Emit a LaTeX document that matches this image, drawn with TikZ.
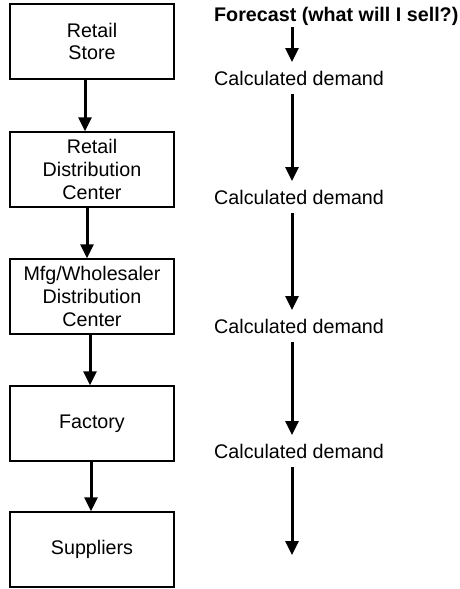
\documentclass[tikz,border=0pt]{standalone}
\usepackage{fontspec}
\setmainfont{Liberation Sans}
\usetikzlibrary{arrows.meta}
\begin{document}
\begin{tikzpicture}[x=1pt,y=-1pt,
  txt/.style={font=\fontsize{19.7}{22.7}\selectfont},
  box/.style={txt, draw, line width=1.5pt, minimum width=164pt, minimum height=75pt, inner sep=0pt, align=center},
  lbl/.style={txt, anchor=base west, inner sep=0pt, text height=14pt, text depth=0pt, outer ysep=9pt},
  arr/.style={line width=3pt, -{Triangle[width=13pt,length=14pt]}},
]
\useasboundingbox (0,0) rectangle (460,589);
% left column
\node[box] (b1) at (92,41.5) {Retail\\Store};
\node[box] (b2) at (92,169.5) {Retail\\Distribution\\Center};
\node[box] (b3) at (92,296.5) {Mfg/Wholesaler\\Distribution\\Center};
\node[box] (b4) at (92,423.5) {Factory};
\node[box] (b5) at (92,549.5) {Suppliers};
\draw[arr] (85,0 |- b1.south) -- (85,0 |- b2.north);
\draw[arr] (87,0 |- b2.south) -- (87,0 |- b3.north);
\draw[arr] (90,0 |- b3.south) -- (90,0 |- b4.north);
\draw[arr] (91,0 |- b4.south) -- (91,0 |- b5.north);
% right column
\node[lbl, outer ysep=6pt, font=\fontsize{19.7}{22.7}\selectfont\bfseries] (f) at (214,21) {Forecast (what will I sell?)};
\node[lbl] (c1) at (214,85) {Calculated demand};
\node[lbl] (c2) at (214,204) {Calculated demand};
\node[lbl] (c3) at (214,333) {Calculated demand};
\node[lbl] (c4) at (214,458) {Calculated demand};
\coordinate (e) at (292,555);
\draw[arr] (292,0 |- f.south) -- (292,0 |- c1.north);
\draw[arr] (292,0 |- c1.south) -- (292,0 |- c2.north);
\draw[arr] (292,0 |- c2.south) -- (292,0 |- c3.north);
\draw[arr] (292,0 |- c3.south) -- (292,0 |- c4.north);
\draw[arr] (292,0 |- c4.south) -- (e);
\end{tikzpicture}
\end{document}
